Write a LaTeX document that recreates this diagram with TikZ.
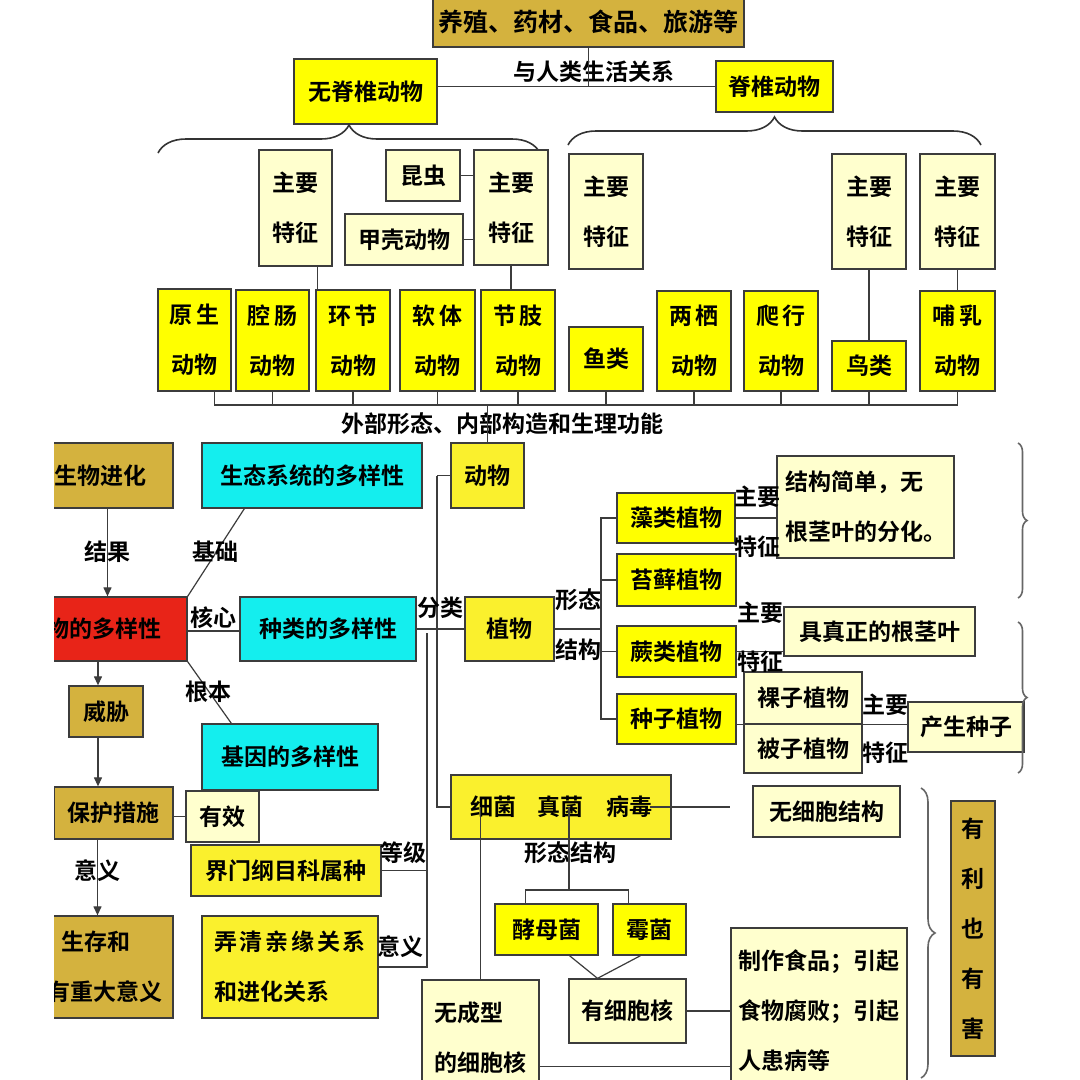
\documentclass[tikz,border=0pt]{standalone}
\usepackage{fontspec}
\setmainfont{Noto Sans CJK SC}[BoldFont={Noto Sans CJK SC Bold}]
\usetikzlibrary{calc,arrows.meta,decorations.pathreplacing}

\definecolor{zheltyj}{RGB}{255,255,0}
\definecolor{tochki}{RGB}{250,240,45}
\definecolor{pesok}{RGB}{212,178,62}
\definecolor{blednyj}{RGB}{255,255,206}
\definecolor{biryuza}{RGB}{20,238,238}
\definecolor{krasnyj}{RGB}{232,36,24}
\definecolor{ramka}{RGB}{60,60,60}

\tikzset{
  mesto/.style n args={4}{at={({(#1+#3)/2},{(#2+#4)/2})},
    minimum width={#3-#1}, minimum height={#4-#2}},
  box/.style={draw=ramka, line width=1.3pt, inner sep=0pt, align=center,
    font=\bfseries\fontsize{23}{28}\selectfont},
  ybox/.style={box, fill=zheltyj},
  dbox/.style={box, fill=tochki},
  lbox/.style={box, fill=blednyj},
  tbox/.style={box, fill=pesok},
  cbox/.style={box, fill=biryuza},
  rbox/.style={box, fill=krasnyj},
  lnk/.style={draw=ramka, line width=1.2pt},
  arr/.style={lnk, -{Triangle[length=9pt,width=8pt]}},
  lab/.style={inner sep=0pt, font=\bfseries\fontsize{23}{28}\selectfont},
  skobka/.style={draw=black!80, line width=1.6pt, decorate, decoration={brace, amplitude=#1}},
  skobka/.default=28
}

\begin{document}
\begin{tikzpicture}[x=1pt, y=-1pt]
  \fill [white] ( 0, 0 ) rectangle ( 1080, 1080 );
  \useasboundingbox ( 0, 0 ) rectangle ( 1080, 1080 );

  % верх
  \node [tbox, font=\bfseries\fontsize{25}{30}\selectfont, mesto={433}{-4}{744}{47}] (yangzhi) {养殖、药材、食品、旅游等};
  \node [ybox, mesto={294}{59}{437}{124}] (wujizhui) {无脊椎动物};
  \node [ybox, mesto={716}{61}{833}{112}] (jizhui) {脊椎动物};
  \node [lab] (ysgx) at ( 594, 72 ) {与人类生活关系};
  \draw [lnk] (yangzhi.south) -- (yangzhi.south |- jizhui.west);
  \draw [lnk] (wujizhui.east |- jizhui.west) -- (jizhui.west);

  % скобки
  \draw [skobka] ( 158, 153 ) -- ( 540, 153 );
  \draw [skobka] ( 568, 145 ) -- ( 981, 145 );

  % главные признаки
  \node [lbox, mesto={259}{150}{332}{266}] (tzA) {主要\\[22pt]特征};
  \node [lbox, mesto={386}{150}{460}{201}] (kunchong) {昆虫};
  \node [lbox, mesto={345}{214}{463}{265}] (jiake) {甲壳动物};
  \node [lbox, mesto={474}{150}{548}{265}] (tzB) {主要\\[22pt]特征};
  \node [lbox, mesto={569}{154}{643}{269}] (tzC) {主要\\[22pt]特征};
  \node [lbox, mesto={832}{154}{906}{269}] (tzD) {主要\\[22pt]特征};
  \node [lbox, mesto={920}{154}{995}{269}] (tzE) {主要\\[22pt]特征};
  \draw [lnk] (kunchong.east) -- (kunchong.east -| tzB.west);
  \draw [lnk] (jiake.east) -- (jiake.east -| tzB.west);

  % группы животных
  \node [ybox, mesto={158}{289}{231}{391}] (yuansheng) {原\,生\\[22pt]动物};
  \node [ybox, mesto={236}{290}{309}{391}] (qiangchang) {腔\,肠\\[22pt]动物};
  \node [ybox, mesto={316}{290}{390}{391}] (huanjie) {环\,节\\[22pt]动物};
  \node [ybox, mesto={400}{290}{475}{391}] (ruanti) {软\,体\\[22pt]动物};
  \node [ybox, mesto={481}{290}{555}{391}] (jiezhi) {节\,肢\\[22pt]动物};
  \node [ybox, mesto={569}{327}{643}{391}] (yulei) {鱼类};
  \node [ybox, mesto={657}{291}{731}{391}] (liangqi) {两\,栖\\[22pt]动物};
  \node [ybox, mesto={744}{291}{818}{391}] (paxing) {爬\,行\\[22pt]动物};
  \node [ybox, mesto={832}{341}{906}{391}] (niaolei) {鸟类};
  \node [ybox, mesto={920}{291}{995}{391}] (buru) {哺\,乳\\[22pt]动物};
  \draw [lnk] ([xshift=22]tzA.south) -- ([xshift=22]tzA.south |- huanjie.north);
  \draw [lnk] (tzB.south) -- (tzB.south |- jiezhi.north);
  \draw [lnk] (tzD.south) -- (niaolei.north);
  \draw [lnk] (tzE.south) -- (buru.north);

  % шина
  \coordinate (shina) at ( 0, 405 );
  \draw [lnk] ([xshift=20]yuansheng.south) |- (shina -| buru.south) -- (buru.south);
  \foreach \g in {qiangchang, huanjie, ruanti, jiezhi, yulei, liangqi, paxing, niaolei}
    \draw [lnk] (\g.south) -- (\g.south |- shina);
  \node [lab] (wbxt) at ( 502, 424 ) {外部形态、内部构造和生理功能};

  % многообразие
  \begin{scope}
    \clip ( 54, 0 ) rectangle ( 1080, 1080 );
    \node [tbox, mesto={28}{443}{173}{508}] (jinhua) {生物进化};
    \node [rbox, mesto={20}{597}{187}{661}] (duoyang) {物的多样性};
    \node [tbox, mesto={54}{787}{173}{839}] (baohu) {保护措施};
    \node [tbox, mesto={36}{916}{173}{1018}, align=left] (yiyi) {\hspace*{14pt}生存和\\[22pt]有重大意义};
  \end{scope}
  \node [tbox, mesto={69}{686}{143}{737}] (weixie) {威胁};
  \node [lbox, mesto={186}{791}{259}{842}] (youxiao) {有效};
  \node [cbox, mesto={202}{443}{422}{508}] (shengtai) {生态系统的多样性};
  \node [cbox, mesto={240}{597}{416}{661}] (zhonglei) {种类的多样性};
  \node [cbox, mesto={202}{724}{378}{790}] (jiyin) {基因的多样性};

  \draw [arr] ([xshift=7]jinhua.south) -- ([xshift=7]jinhua.south |- duoyang.north);
  \draw [arr] ([xshift=-8]weixie.north |- duoyang.south) -- ([xshift=-8]weixie.north);
  \draw [arr] ([xshift=-8]weixie.south) -- ([xshift=-8]weixie.south |- baohu.north);
  \draw [arr] ([xshift=-16]baohu.south) -- ([xshift=-16]baohu.south |- yiyi.north);
  \draw [lnk] (baohu.east |- youxiao.west) -- (youxiao.west);
  \draw [lnk] (duoyang.north east) -- ($(shengtai.south west)+(43,0)$);
  \draw [lnk] ([yshift=-2]duoyang.east) -- ([yshift=-2]duoyang.east -| zhonglei.west);
  \draw [lnk] (duoyang.south east) -- ($(jiyin.north west)+(30,0)$);
  \node [lab] (jieguo) at ( 107, 552 ) {结果};
  \node [lab] (jichu) at ( 215, 552 ) {基础};
  \node [lab] (hexin) at ( 213, 618 ) {核心};
  \node [lab] (genben) at ( 208, 692 ) {根本};
  \node [lab] (yiyiA) at ( 97, 871 ) {意义};

  % животные, растения, микробы
  \node [dbox, mesto={451}{443}{524}{508}] (dongwu) {动物};
  \node [dbox, mesto={465}{597}{554}{661}] (zhiwu) {植物};
  \node [dbox, mesto={451}{775}{671}{839}] (xijun) {细菌\hspace{22pt}真菌\hspace{22pt}病毒};
  \draw [lnk] (dongwu.north) -- (dongwu.north |- shina);
  \coordinate (stvolB) at ( 437, 480 );
  \draw [lnk] (dongwu.west -| stvolB) -- (dongwu.west);
  \draw [lnk] (dongwu.west -| stvolB) -- (stvolB |- xijun.west) -- (xijun.west);

  % классификация
  \node [dbox, mesto={191}{845}{381}{896}] (jiemen) {界门纲目科属种};
  \node [dbox, mesto={202}{916}{378}{1018}, align=left] (nongqing) {{\addfontfeatures{LetterSpace=12}弄清亲缘关系}\\[22pt]和进化关系};
  \coordinate (stvol) at ( 427, 633 );
  \draw [lnk] (zhonglei.east) -- (zhiwu.west |- zhonglei.east);
  \draw [lnk] (stvol) |- (nongqing.east);
  \draw [lnk] (jiemen.east) -- (jiemen.east -| stvol);
  \node [lab] (fenlei) at ( 440, 608 ) {分类};
  \node [lab] (dengji) at ( 403, 853 ) {等级};
  \node [lab] (yiyiB) at ( 400, 947 ) {意义};

  % растения
  \node [ybox, mesto={617}{493}{735}{543}] (zaolei) {藻类植物};
  \node [ybox, mesto={617}{554}{736}{606}] (taixian) {苔藓植物};
  \node [ybox, mesto={617}{626}{736}{677}] (juelei) {蕨类植物};
  \node [ybox, mesto={617}{694}{736}{744}] (zhongzi) {种子植物};
  \coordinate (stvolC) at ( 601, 629 );
  \draw [lnk] (zhiwu.east) -- (stvolC);
  \draw [lnk] (zaolei.west) -| (stvolC |- zhongzi.west) -- (zhongzi.west);
  \draw [lnk] (taixian.west) -- (taixian.west -| stvolC);
  \draw [lnk] (juelei.west) -- (juelei.west -| stvolC);
  \node [lab] (xingtai) at ( 578, 600 ) {形态};
  \node [lab] (jiegou) at ( 578, 650 ) {结构};

  \node [lbox, mesto={777}{456}{954}{558}, align=left] (jiandan) {结构简单，无\\[22pt]根茎叶的分化。};
  \node [lbox, mesto={784}{607}{975}{656}] (genjing) {具真正的根茎叶};
  \node [lbox, mesto={744}{672}{862}{724}] (luozi) {裸子植物};
  \node [lbox, mesto={744}{724}{862}{773}] (beizi) {被子植物};
  \node [lbox, mesto={908}{702}{1024}{752}] (chansheng) {产生种子};
  \draw [lnk] (zaolei.east) -- (zaolei.east -| jiandan.west);
  \draw [lnk] (juelei.east) -- (juelei.east -| genjing.west);
  \draw [lnk] (zhongzi.east |- luozi.south) -- (luozi.south -| chansheng.west);
  \node [lab] (zyA) at ( 757, 497 ) {主要};
  \node [lab] (tzzA) at ( 757, 547 ) {特征};
  \node [lab] (zyB) at ( 760, 613 ) {主要};
  \node [lab] (tzzB) at ( 760, 662 ) {特征};
  \node [lab] (zyC) at ( 885, 705 ) {主要};
  \node [lab] (tzzC) at ( 885, 753 ) {特征};
  \draw [skobka=9, draw=black!60] ( 1018, 443 ) -- ( 1018, 598 );
  \draw [skobka=9, draw=black!60] ( 1018, 622 ) -- ( 1018, 773 );

  % микробы
  \node [lbox, mesto={753}{786}{900}{837}] (wuxibao) {无细胞结构};
  \node [ybox, mesto={495}{904}{598}{955}] (jiaomu) {酵母菌};
  \node [ybox, mesto={613}{904}{686}{955}] (meijun) {霉菌};
  \node [lbox, mesto={569}{979}{686}{1043}] (youhe) {有细胞核};
  \node [lbox, mesto={422}{980}{539}{1095}, align=left] (wuhe) {无成型\\[22pt]的细胞核};
  \node [lbox, mesto={731}{928}{907}{1094}, align=left] (zhizuo) {制作食品；引起\\[22pt]食物腐败；引起\\[22pt]人患病等};
  \node [tbox, mesto={951}{801}{995}{1056}] (youli) {有\\[22pt]利\\[22pt]也\\[22pt]有\\[22pt]害};
  \node [lab] (xtjg) at ( 570, 853 ) {形态结构};
  \coordinate (vilka) at ( 569, 890 );
  \draw [lnk] ([xshift=-22]xijun.east) -- ([xshift=-22]xijun.east -| wuxibao.west);
  \draw [lnk] ([xshift=8]xijun.center) -- (vilka);
  \draw [lnk] ([xshift=-21]jiaomu.north) |- (vilka) -| ([xshift=-21]meijun.north);
  \draw [lnk] (wuhe.north |- xijun.center) -- (wuhe.north);
  \draw [lnk] ([xshift=23]jiaomu.south) -- ([xshift=-30]youhe.north) -- ([xshift=-9]meijun.south);
  \draw [lnk] (youhe.east) -- (youhe.east -| zhizuo.west);
  \draw [lnk] ([yshift=-29]wuhe.east) -- ([yshift=-29]wuhe.east -| zhizuo.west);
  \draw [skobka=14, draw=black!60] ( 921, 788 ) -- ( 921, 1078 );
\end{tikzpicture}
\end{document}
